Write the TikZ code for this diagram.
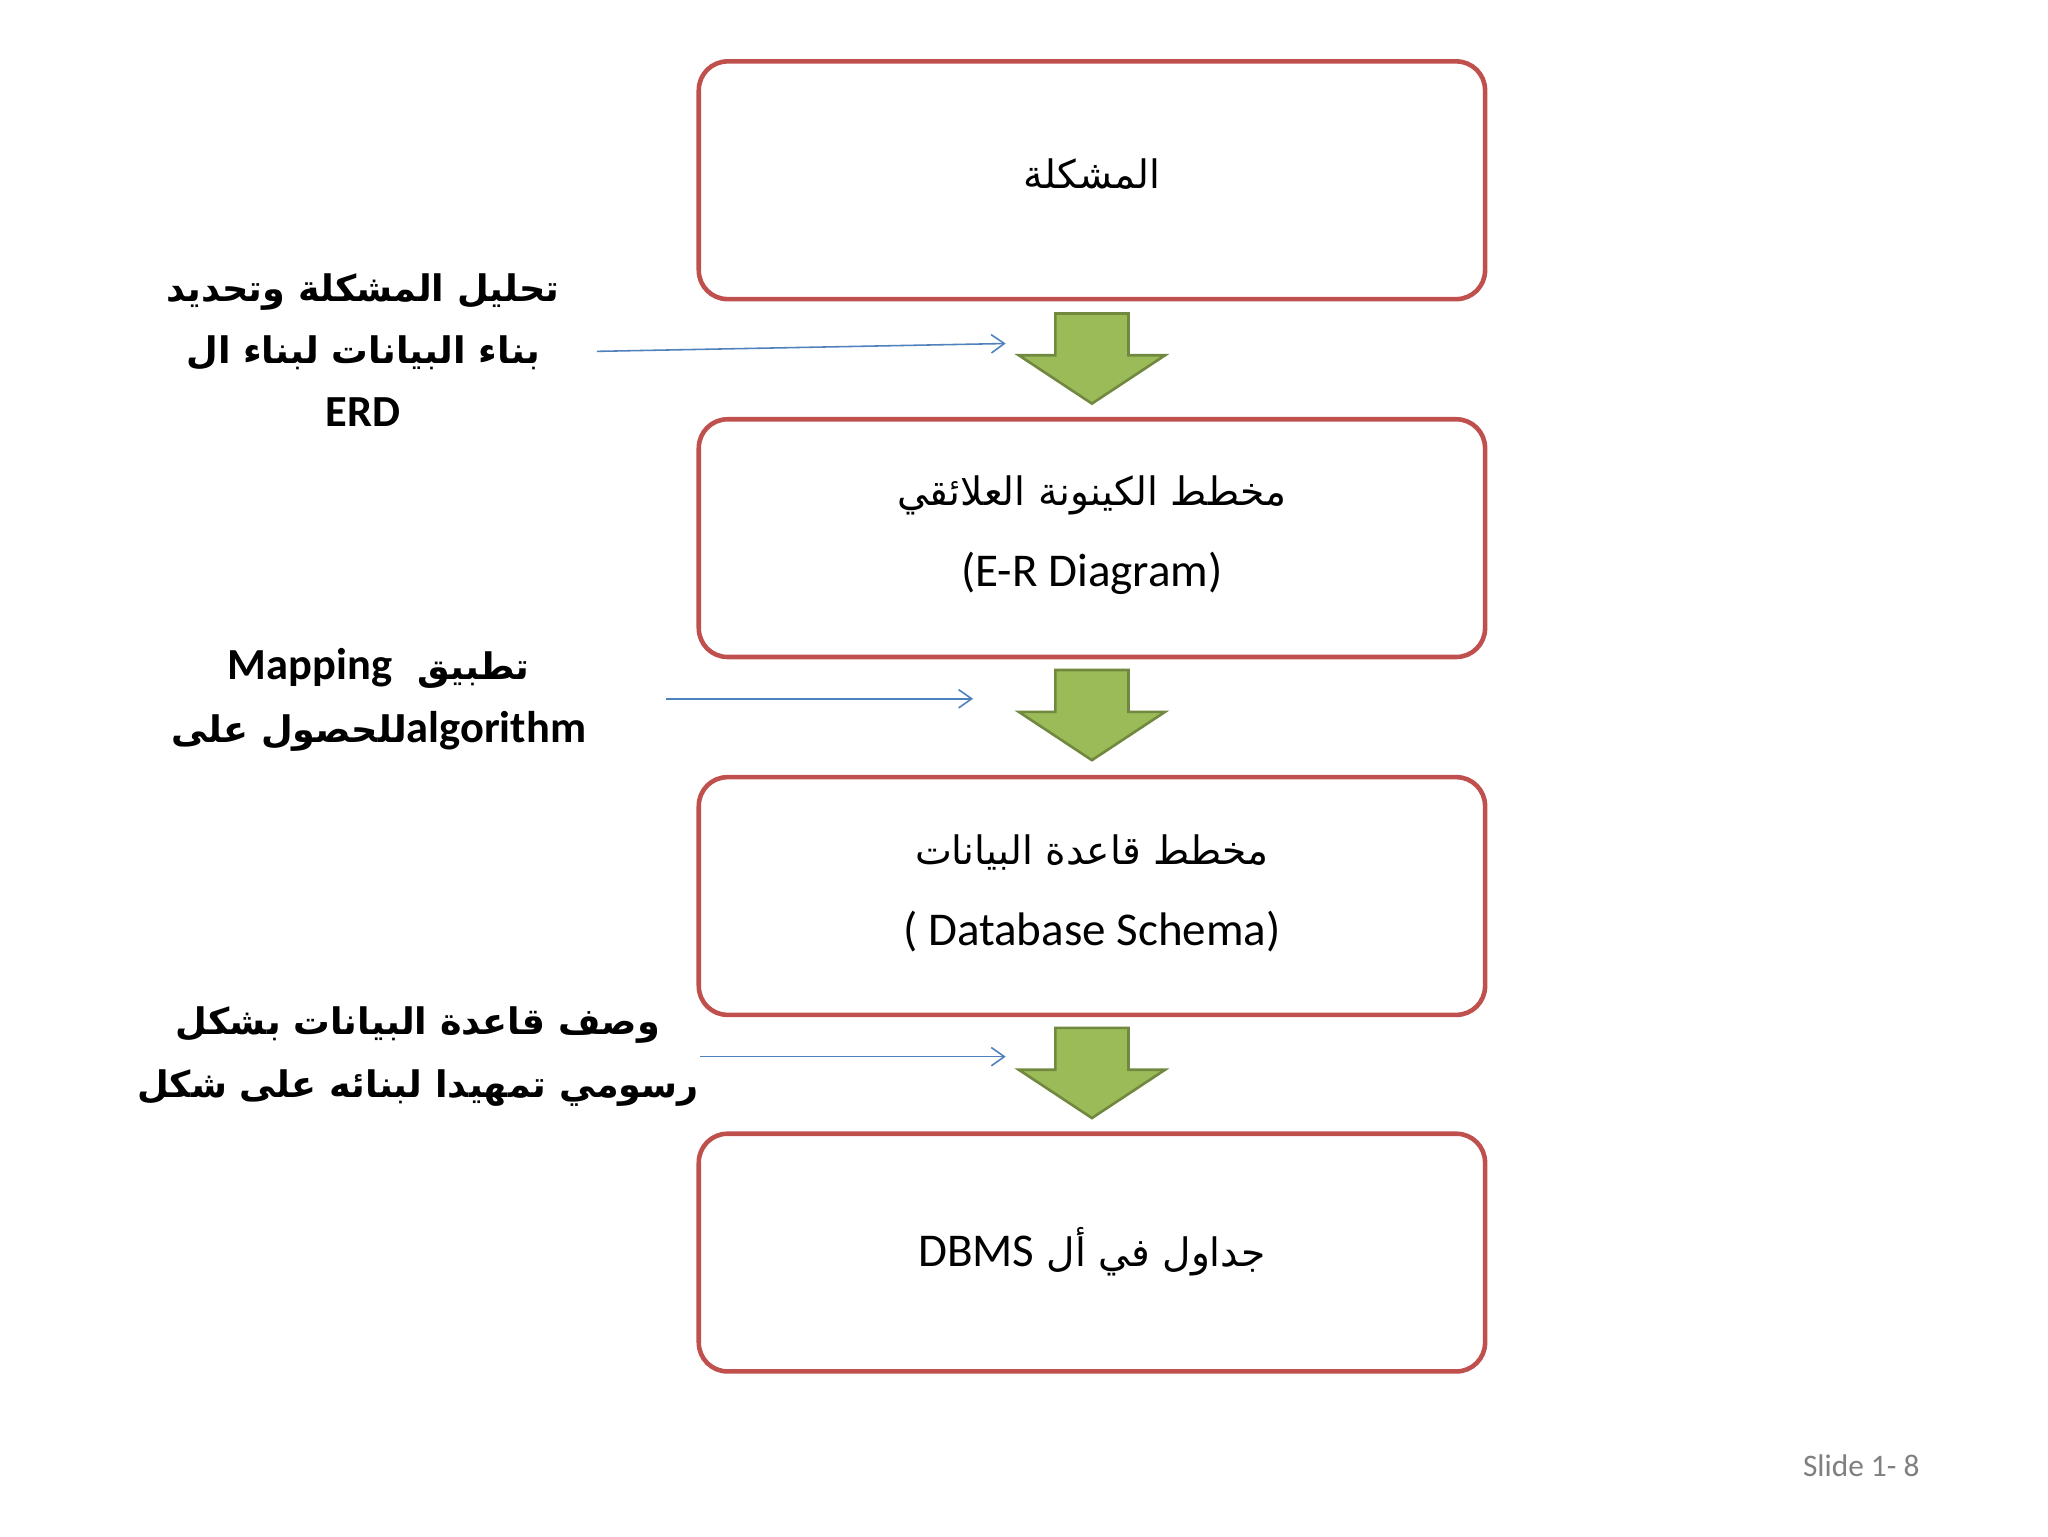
\documentclass[tikz,border=0pt]{standalone}
\usepackage{fontspec}
\setmainfont{Carlito}
\newfontfamily\arabicfont[Script=Arabic]{DejaVu Sans}
\TeXXeTstate=1
\usetikzlibrary{arrows.meta}
\definecolor{boxred}{HTML}{C0504D}
\definecolor{grn}{HTML}{9BBB59}
\definecolor{grnd}{HTML}{71893F}
\definecolor{blu}{HTML}{4F81BD}
\newcommand{\eng}[1]{{\rmfamily\fontsize{36}{48}\selectfont #1}}
\newcommand{\engb}[1]{{\rmfamily\bfseries\fontsize{34}{48}\selectfont #1}}
\begin{document}
\begin{tikzpicture}[x=1pt,y=-1pt,
  stepbox/.style={draw=boxred,line width=3.5pt,rounded corners=22pt,fill=white},
  conn/.style={draw=blu,line width=1.2pt,-{Straight Barb[length=10pt,width=14pt]}},
  lbl/.style={align=center,font=\fontsize{28}{48}\selectfont\bfseries},
  btxt/.style={align=center,font=\fontsize{30}{62}\selectfont}]
\useasboundingbox (0,0) rectangle (1568,1176);
\fill[white] (0,0) rectangle (1568,1176);
\foreach \n/\y in {b1/47,b2/321,b3/595,b4/868}{
  \draw[stepbox] (535,\y) rectangle (1137,\y+182);
  \coordinate (\n) at (836,\y+91);
}
\node[btxt] (t1) at (836,133) {\arabicfont\beginR المشكلة\endR};
\node[btxt] (t2) at (836,410) {\arabicfont\beginR مخطط الكينونة العلائقي\endR\\\eng{(E-R Diagram)}};
\node[btxt] (t3) at (836,684) {\arabicfont\beginR مخطط قاعدة البيانات\endR\\\eng{( Database Schema)}};
\node[btxt] (t4) at (836,958) {\arabicfont\beginR جداول في أل \beginL\eng{DBMS}\endL\endR};
\foreach \y in {240,513,787}{
  \draw[fill=grn,draw=grnd,line width=2pt,line join=miter]
   (808,\y) -- (864,\y) -- (864,\y+32) -- (892,\y+32) -- (836,\y+69) -- (780,\y+32) -- (808,\y+32) -- cycle;
}
\node[lbl] (l1) at (278,268) {\arabicfont\bfseries\beginR تحليل المشكلة وتحديد\endR\\\arabicfont\bfseries\beginR بناء البيانات لبناء ال\endR\\\engb{ERD}};
\node[lbl] (l2) at (290,536) {\arabicfont\bfseries\beginR تطبيق \ \beginL\engb{Mapping}\endL\endR\\\arabicfont\bfseries\beginR\beginL\engb{algorithm}\endL للحصول على\endR};
\node[lbl] (l3) at (320,809) {\arabicfont\bfseries\beginR وصف قاعدة البيانات بشكل\endR\\\arabicfont\bfseries\beginR رسومي تمهيدا لبنائه على شكل\endR};
\coordinate (a1s) at (457,269); \coordinate (a1e) at (770,263);
\coordinate (a2s) at (510,535); \coordinate (a2e) at (745,535);
\coordinate (a3s) at (536,809); \coordinate (a3e) at (770,809);
\draw[conn] (a1s) -- (a1e);
\draw[conn] (a2s) -- (a2e);
\draw[conn] (a3s) -- (a3e);
\node[text=gray,font=\fontsize{24}{28}\selectfont] (sl) at (1425,1122) {Slide 1- 8};
\end{tikzpicture}
\end{document}
